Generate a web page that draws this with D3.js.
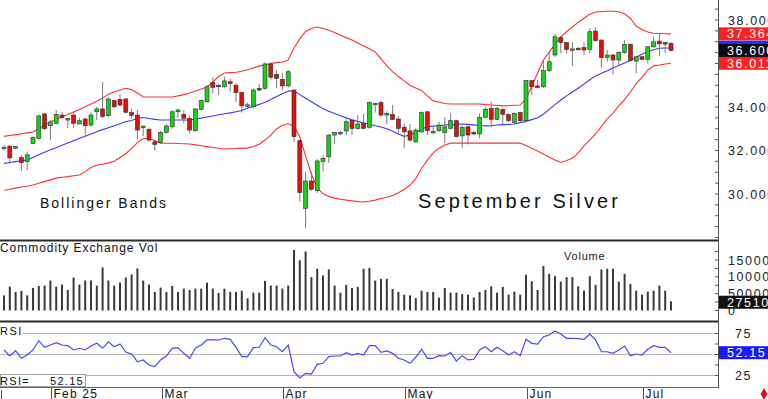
<!DOCTYPE html>
<html>
<head>
<meta charset="utf-8">
<script src="https://cdn.jsdelivr.net/npm/d3@7"></script>
<style>
  body { margin: 0; background: #fff; }
  svg { display: block; font-family: "Liberation Sans", Arial, sans-serif; }
</style>
</head>
<body>
<svg id="chart" width="768" height="399"></svg>
<script>
// September Silver, daily bars Jan–Jul 2025
const open = [
  32.10, 32.20, 32.10, 31.67, 31.49, 32.33, 32.56, 33.68, 33.14, 33.25,
  33.63, 33.42, 33.63, 33.22, 33.45, 33.17, 33.78, 33.91, 33.60, 34.29,
  34.35, 34.37, 33.74, 33.63, 33.05, 32.97, 32.40, 32.36, 32.82, 33.09,
  33.78, 33.66, 33.48, 32.91, 33.89, 34.24, 35.12, 35.00, 34.93, 35.16,
  35.00, 34.66, 34.05, 34.01, 34.85, 34.86, 35.98, 35.50, 35.27, 34.97,
  34.78, 32.45, 29.34, 30.60, 30.15, 31.49, 31.71, 32.71, 32.78, 32.90,
  33.40, 33.02, 33.25, 33.07, 34.10, 34.20, 33.63, 33.66, 33.45, 33.07,
  32.90, 32.40, 32.86, 33.78, 32.84, 32.91, 32.82, 33.02, 33.37, 32.67,
  33.09, 32.83, 32.76, 33.53, 33.94, 33.43, 33.89, 33.66, 33.28, 33.74,
  33.37, 35.21, 34.97, 34.93, 35.67, 36.39, 37.19, 36.96, 36.63, 36.70,
  36.73, 36.65, 37.49, 37.08, 36.28, 36.39, 36.16, 36.50, 36.88, 36.11,
  36.31, 36.19, 36.77, 37.03, 36.96, 36.93
];
const high = [
  32.25, 32.25, 32.22, 31.80, 31.95, 32.65, 33.65, 33.72, 33.40, 33.86,
  33.78, 33.50, 33.78, 33.50, 33.50, 33.75, 34.00, 35.14, 34.45, 34.35,
  34.58, 34.40, 33.93, 33.86, 33.15, 33.05, 32.45, 32.90, 33.20, 33.85,
  33.95, 33.86, 33.60, 33.95, 34.35, 35.00, 35.36, 35.05, 35.40, 35.30,
  35.10, 34.70, 34.20, 34.85, 35.06, 36.05, 36.05, 35.70, 35.55, 35.70,
  34.80, 32.50, 31.03, 31.03, 31.60, 31.80, 32.75, 32.85, 32.90, 33.43,
  33.45, 33.63, 33.68, 34.25, 34.20, 34.30, 33.80, 34.09, 33.59, 33.25,
  33.22, 33.05, 33.80, 33.80, 33.10, 33.32, 33.53, 33.71, 33.40, 33.15,
  33.15, 32.90, 33.71, 34.01, 34.24, 34.00, 33.95, 33.71, 33.75, 33.78,
  35.25, 35.25, 35.24, 36.13, 36.54, 37.36, 37.25, 37.00, 37.00, 36.75,
  37.00, 37.62, 37.66, 37.10, 36.62, 36.45, 36.55, 37.08, 36.92, 36.35,
  36.35, 36.80, 37.23, 37.39, 37.00, 36.98
];
const low = [
  32.00, 31.40, 32.05, 31.06, 31.10, 32.30, 32.50, 32.95, 32.48, 33.20,
  33.45, 33.03, 33.02, 33.20, 32.62, 33.10, 33.40, 33.50, 33.55, 33.95,
  34.05, 33.70, 33.47, 32.51, 32.65, 32.40, 31.98, 32.30, 32.78, 33.00,
  33.50, 33.25, 32.79, 32.88, 33.85, 34.20, 34.63, 34.55, 34.90, 34.70,
  34.24, 33.74, 33.95, 33.95, 34.70, 34.80, 35.27, 34.86, 34.78, 34.90,
  32.40, 29.65, 28.42, 30.15, 30.05, 31.03, 31.43, 32.30, 32.70, 32.71,
  32.71, 32.95, 32.98, 33.00, 33.74, 33.55, 33.22, 33.40, 32.79, 32.13,
  32.40, 32.35, 32.80, 32.71, 32.75, 32.85, 32.33, 32.98, 32.60, 32.10,
  32.28, 32.70, 32.56, 33.50, 33.07, 33.40, 33.22, 33.30, 33.25, 33.30,
  33.30, 34.55, 34.85, 34.88, 35.60, 36.30, 36.47, 36.47, 35.89, 36.60,
  36.39, 36.47, 37.00, 35.81, 36.08, 35.50, 35.93, 36.45, 36.10, 35.55,
  36.15, 36.00, 36.72, 36.34, 36.47, 36.55
];
const close = [
  32.15, 31.66, 32.18, 31.44, 31.80, 32.59, 33.59, 33.00, 33.31, 33.66,
  33.51, 33.47, 33.25, 33.37, 33.14, 33.63, 33.91, 33.56, 34.37, 34.01,
  34.09, 33.76, 33.62, 32.94, 33.12, 32.48, 32.28, 32.83, 33.13, 33.78,
  33.86, 33.48, 32.94, 33.91, 34.29, 34.93, 34.90, 34.95, 35.20, 35.08,
  34.66, 34.05, 34.10, 34.78, 34.80, 35.98, 35.37, 35.32, 34.97, 35.62,
  32.64, 30.06, 30.60, 30.22, 31.52, 31.64, 32.71, 32.83, 32.83, 33.32,
  33.02, 33.22, 33.02, 34.20, 34.17, 33.63, 33.70, 33.43, 33.02, 32.86,
  32.48, 32.94, 33.74, 32.91, 32.88, 33.17, 33.09, 33.37, 32.64, 33.07,
  32.71, 32.76, 33.53, 33.89, 33.43, 33.94, 33.66, 33.37, 33.71, 33.37,
  35.21, 34.93, 34.90, 35.67, 36.08, 37.23, 36.96, 36.65, 36.67, 36.65,
  36.62, 37.46, 37.05, 36.27, 36.39, 36.16, 36.51, 36.88, 36.13, 36.31,
  36.19, 36.77, 37.00, 36.90, 36.90, 36.60
];
const bbUpper = [
  32.65, 32.69, 32.73, 32.77, 32.81, 32.85, 33.01, 33.16, 33.32, 33.43,
  33.54, 33.65, 33.77, 33.89, 34.01, 34.14, 34.26, 34.40, 34.59, 34.70,
  34.78, 34.86, 34.80, 34.64, 34.46, 34.46, 34.46, 34.46, 34.46, 34.46,
  34.51, 34.57, 34.64, 34.74, 34.83, 34.92, 35.15, 35.40, 35.56, 35.58,
  35.60, 35.64, 35.71, 35.80, 35.88, 35.94, 36.00, 36.04, 36.07, 36.16,
  36.71, 37.13, 37.47, 37.61, 37.68, 37.61, 37.53, 37.42, 37.30, 37.19,
  37.08, 36.94, 36.81, 36.68, 36.53, 36.21, 35.89, 35.63, 35.40, 35.20,
  34.99, 34.87, 34.76, 34.51, 34.28, 34.23, 34.16, 34.14, 34.14, 34.14,
  34.14, 34.14, 34.14, 34.11, 34.09, 34.07, 34.05, 34.06, 34.08, 34.09,
  34.37, 34.97, 35.56, 36.16, 36.52, 36.88, 37.24, 37.46, 37.68, 37.89,
  38.08, 38.27, 38.37, 38.39, 38.40, 38.40, 38.38, 38.29, 38.07, 37.72,
  37.56, 37.45, 37.39, 37.38, 37.37, 37.364
];
const bbMid = [
  31.41, 31.45, 31.49, 31.53, 31.56, 31.68, 31.80, 31.92, 32.03, 32.13,
  32.24, 32.34, 32.45, 32.56, 32.66, 32.76, 32.86, 32.96, 33.05, 33.14,
  33.23, 33.33, 33.38, 33.48, 33.52, 33.47, 33.43, 33.40, 33.40, 33.40,
  33.40, 33.40, 33.40, 33.45, 33.49, 33.54, 33.59, 33.64, 33.69, 33.73,
  33.78, 33.84, 33.94, 34.03, 34.12, 34.22, 34.35, 34.48, 34.61, 34.73,
  34.75, 34.57, 34.40, 34.24, 34.08, 33.92, 33.80, 33.70, 33.60, 33.50,
  33.40, 33.34, 33.27, 33.21, 33.14, 33.08, 33.00, 32.88, 32.76, 32.65,
  32.71, 32.83, 32.99, 33.09, 33.12, 33.15, 33.17, 33.19, 33.20, 33.22,
  33.20, 33.18, 33.15, 33.13, 33.14, 33.17, 33.19, 33.20, 33.22, 33.28,
  33.34, 33.42, 33.51, 33.67, 33.89, 34.11, 34.32, 34.51, 34.69, 34.86,
  35.05, 35.25, 35.43, 35.55, 35.67, 35.79, 35.91, 36.02, 36.15, 36.29,
  36.42, 36.54, 36.63, 36.70, 36.71, 36.71
];
const bbLower = [
  30.17, 30.22, 30.27, 30.32, 30.36, 30.41, 30.49, 30.57, 30.65, 30.73,
  30.77, 30.80, 30.84, 30.87, 31.03, 31.22, 31.32, 31.37, 31.43, 31.51,
  31.68, 31.85, 32.10, 32.36, 32.55, 32.55, 32.46, 32.34, 32.33, 32.33,
  32.32, 32.31, 32.30, 32.26, 32.22, 32.18, 32.14, 32.10, 32.07, 32.08,
  32.09, 32.11, 32.11, 32.18, 32.29, 32.48, 32.71, 32.99, 33.16, 33.23,
  33.13, 32.62, 31.75, 30.92, 30.28, 30.02, 29.89, 29.81, 29.76, 29.72,
  29.69, 29.65, 29.63, 29.67, 29.72, 29.79, 29.85, 29.93, 30.06, 30.21,
  30.41, 30.71, 31.17, 31.56, 31.89, 32.10, 32.25, 32.34, 32.34, 32.34,
  32.34, 32.34, 32.34, 32.34, 32.34, 32.34, 32.34, 32.34, 32.34, 32.34,
  32.23, 32.10, 31.98, 31.84, 31.70, 31.56, 31.45, 31.54, 31.64, 31.89,
  32.21, 32.48, 32.76, 33.10, 33.45, 33.72, 34.05, 34.34, 34.69, 35.08,
  35.36, 35.70, 35.89, 35.93, 35.98, 36.011
];
const volume = [
  45000, 71000, 55000, 58000, 45000, 67000, 73000, 74000, 89000, 71000,
  77000, 61000, 98000, 77000, 89000, 89000, 74000, 128000, 89000, 74000,
  83000, 98000, 107000, 125000, 89000, 77000, 55000, 68000, 55000, 73000,
  55000, 65000, 61000, 65000, 65000, 83000, 65000, 52000, 65000, 55000,
  55000, 59000, 36000, 53000, 53000, 88000, 74000, 74000, 65000, 74000,
  180000, 149000, 175000, 99000, 124000, 104000, 122000, 74000, 53000, 76000,
  67000, 70000, 124000, 126000, 89000, 94000, 94000, 64000, 55000, 47000,
  45000, 37000, 59000, 55000, 55000, 38000, 67000, 53000, 53000, 49000,
  47000, 39000, 55000, 61000, 72000, 53000, 70000, 47000, 56000, 47000,
  106000, 87000, 61000, 132000, 109000, 102000, 86000, 99000, 99000, 72000,
  59000, 102000, 76000, 122000, 124000, 124000, 86000, 109000, 79000, 59000,
  47000, 56000, 59000, 74000, 59000, 27510
];
const rsi = [
  55.4, 48.2, 54.5, 45.5, 49.4, 55.4, 66.4, 58.6, 61.3, 64.1,
  61.3, 60.5, 55.4, 57.4, 55.4, 60.1, 63.3, 57.4, 65.2, 59.3,
  62.5, 53.0, 50.6, 41.4, 43.5, 37.5, 35.5, 43.5, 48.2, 57.4,
  58.1, 51.4, 45.5, 57.4, 61.3, 67.3, 67.3, 67.3, 69.3, 68.1,
  58.6, 47.4, 47.4, 58.1, 58.6, 70.0, 61.3, 59.3, 53.3, 61.3,
  29.5, 22.0, 27.6, 26.8, 38.3, 39.5, 47.4, 48.2, 48.2, 52.1,
  49.4, 51.4, 49.4, 60.5, 60.5, 52.6, 54.2, 51.4, 45.5, 43.5,
  39.5, 46.7, 56.2, 45.5, 45.5, 48.6, 48.2, 52.6, 42.3, 48.6,
  43.5, 44.3, 55.4, 59.3, 53.3, 58.6, 54.5, 49.4, 53.3, 48.6,
  68.1, 63.3, 62.5, 71.2, 73.2, 78.0, 74.4, 69.3, 69.3, 68.8,
  68.1, 74.4, 67.3, 53.3, 53.3, 51.4, 55.4, 60.1, 48.6, 50.6,
  49.4, 56.2, 60.5, 58.6, 58.6, 52.15
];

const monthIndex  = [8, 27, 48, 69, 90, 110];
const monthLabels = ["Feb 25", "Mar", "Apr", "May", "Jun", "Jul"];
const priceTicks  = [30, 32, 34, 36, 38];
const volumeTicks = [150000, 100000, 50000, 0];
const rsiTicks    = [75, 25];
const rsiLevels   = [75, 50, 25];

const width = 768, height = 399;
const plotRight = 718;
const n = close.length;
const last = n - 1;

const svg = d3.select("#chart").attr("viewBox", `0 0 ${width} ${height}`);

const x = d3.scaleLinear().domain([0, last]).range([4, 671]);
const yPrice = d3.scaleLinear().domain([30, 38]).range([194, 20]);
const yVol = d3.scaleLinear().domain([0, 150000]).range([310.5, 260]);
const yRsi = d3.scaleLinear().domain([25, 75]).range([375.5, 333.5]);

svg.append("defs").append("clipPath").attr("id", "mainClip")
  .append("rect").attr("x", 0).attr("y", 0).attr("width", plotRight).attr("height", 240);

// ---- price panel ----
const main = svg.append("g").attr("clip-path", "url(#mainClip)");

const bandLine = d3.line().x((d, i) => x(i)).y(d => yPrice(d));
[[bbUpper, "#ff3030"], [bbLower, "#ff3030"], [bbMid, "#3838ff"]].forEach(([s, c]) => {
  main.append("path").datum(s)
    .attr("d", bandLine)
    .attr("fill", "none")
    .attr("stroke", c)
    .attr("stroke-width", 1.1);
});

const candles = main.append("g").selectAll("g")
  .data(d3.range(n))
  .join("g");

candles.append("line")
  .attr("x1", i => x(i)).attr("x2", i => x(i))
  .attr("y1", i => yPrice(high[i])).attr("y2", i => yPrice(low[i]))
  .attr("stroke", "#7a7a7a")
  .attr("stroke-width", 1);

candles.append("rect")
  .attr("x", i => x(i) - 2)
  .attr("width", 4)
  .attr("y", i => yPrice(Math.max(open[i], close[i])))
  .attr("height", i => Math.max(1.5, Math.abs(yPrice(open[i]) - yPrice(close[i]))))
  .attr("fill", i => close[i] >= open[i] ? "#18d018" : "#e01010")
  .attr("stroke", "#303030")
  .attr("stroke-width", 0.6);

// panel text
svg.append("text").attr("x", 40).attr("y", 208)
  .attr("font-size", 14).attr("letter-spacing", 2).attr("fill", "#111")
  .text("Bollinger Bands");
svg.append("text").attr("x", 418).attr("y", 208)
  .attr("font-size", 20).attr("letter-spacing", 3.1).attr("fill", "#111")
  .text("September Silver");

// ---- volume panel ----
svg.append("g").selectAll("rect")
  .data(volume)
  .join("rect")
  .attr("x", (d, i) => x(i) - 1)
  .attr("width", 2)
  .attr("y", d => yVol(d))
  .attr("height", d => yVol(0) - yVol(d))
  .attr("fill", "#3a3a3a");

svg.append("text").attr("x", 0).attr("y", 252)
  .attr("font-size", 12).attr("letter-spacing", 0.95).attr("fill", "#111")
  .text("Commodity Exchange Vol");
svg.append("text").attr("x", 564).attr("y", 260)
  .attr("font-size", 11).attr("letter-spacing", 0.8).attr("fill", "#222")
  .text("Volume");

// ---- RSI panel ----
const levelColor = { 75: "#ff9a9a", 50: "#b8b8b8", 25: "#a8a8ff" };
svg.append("g").selectAll("line")
  .data(rsiLevels)
  .join("line")
  .attr("x1", d => d === 75 ? 22 : 0).attr("x2", plotRight)
  .attr("y1", d => yRsi(d)).attr("y2", d => yRsi(d))
  .attr("stroke", d => levelColor[d])
  .attr("stroke-width", 1);

svg.append("path").datum(rsi)
  .attr("d", d3.line().x((d, i) => x(i)).y(d => yRsi(d)))
  .attr("fill", "none")
  .attr("stroke", "#4848ff")
  .attr("stroke-width", 1.2);

svg.append("text").attr("x", 0).attr("y", 335)
  .attr("font-size", 11).attr("letter-spacing", 1.5).attr("fill", "#111")
  .text("RSI");

svg.append("rect").attr("x", 0.5).attr("y", 374.5).attr("width", 85).attr("height", 12)
  .attr("fill", "#fff").attr("stroke", "#a0a0a0");
svg.append("text").attr("x", 0).attr("y", 385)
  .attr("font-size", 11).attr("letter-spacing", 1.3).attr("fill", "#111")
  .text("RSI=");
svg.append("text").attr("x", 84).attr("y", 385).attr("text-anchor", "end")
  .attr("font-size", 11).attr("letter-spacing", 1.3).attr("fill", "#111")
  .text(d3.format(".2f")(rsi[last]));

// ---- panel frames ----
[[240.5, 2, "#2a2a2a"], [321.5, 2, "#2a2a2a"], [387.5, 1, "#606060"]].forEach(([yy, w, c]) => {
  svg.append("line").attr("x1", 0).attr("x2", plotRight + 1)
    .attr("y1", yy).attr("y2", yy).attr("stroke", c).attr("stroke-width", w);
});
svg.append("line").attr("x1", plotRight + 0.5).attr("x2", plotRight + 0.5)
  .attr("y1", 0).attr("y2", 388).attr("stroke", "#555").attr("stroke-width", 1);

// ---- right axes ----
const axisG = svg.append("g").attr("transform", `translate(${plotRight},0)`);
const rightLabel = (yy, txt) => axisG.append("text")
  .attr("x", 10).attr("y", yy + 4.5)
  .attr("font-size", 12.5).attr("letter-spacing", 1.6).attr("fill", "#222")
  .text(txt);

d3.range(28, 38.6, 0.5).forEach(v => {
  axisG.append("line").attr("x1", -3).attr("x2", 0)
    .attr("y1", yPrice(v)).attr("y2", yPrice(v)).attr("stroke", "#555");
});
d3.range(0, 175001, 25000).forEach(v => {
  axisG.append("line").attr("x1", -3).attr("x2", 0)
    .attr("y1", yVol(v)).attr("y2", yVol(v)).attr("stroke", "#555");
});
d3.range(12.5, 90, 12.5).forEach(v => {
  if (yRsi(v) < 386 && yRsi(v) > 323) axisG.append("line").attr("x1", -3).attr("x2", 0)
    .attr("y1", yRsi(v)).attr("y2", yRsi(v)).attr("stroke", "#555");
});

priceTicks.forEach(v => rightLabel(yPrice(v), d3.format(".3f")(v)));
volumeTicks.forEach(v => rightLabel(yVol(v), String(v)));
rsiTicks.forEach(v => axisG.append("text")
  .attr("x", 17).attr("y", yRsi(v) + 4.5)
  .attr("font-size", 12.5).attr("letter-spacing", 1.6).attr("fill", "#222")
  .text(v));

const tag = (yy, txt, bg) => {
  axisG.append("rect").attr("x", 1).attr("y", yy - 6.5).attr("width", 50).attr("height", 13)
    .attr("fill", bg);
  axisG.append("text").attr("x", 9).attr("y", yy + 4.5)
    .attr("font-size", 12.5).attr("letter-spacing", 1.6).attr("fill", "#fff")
    .text(txt);
};
tag(yPrice(bbMid[last]) - 1, "", "#2030ff");
tag(yPrice(bbUpper[last]), d3.format(".3f")(bbUpper[last]), "#ff2020");
tag(yPrice(bbLower[last]), d3.format(".3f")(bbLower[last]), "#ff2020");
tag(yPrice(close[last]), d3.format(".3f")(close[last]), "#0a0a14");
tag(yVol(volume[last]) + 1, String(volume[last]), "#111");
tag(yRsi(rsi[last]), d3.format(".2f")(rsi[last]), "#1a1aff");

axisG.append("path")
  .attr("d", d3.symbol(d3.symbolDiamond, 40)())
  .attr("transform", "translate(46,394)")
  .attr("fill", "#e01010");

// ---- month axis ----
const months = svg.append("g");
monthIndex.forEach((mi, k) => {
  const mx = Math.round(x(mi)) + 1.5;
  months.append("line").attr("x1", mx).attr("x2", mx)
    .attr("y1", 388).attr("y2", 399).attr("stroke", "#555");
  months.append("text").attr("x", mx + 2).attr("y", 398)
    .attr("font-size", 12).attr("letter-spacing", 1.2).attr("fill", "#111")
    .text(monthLabels[k]);
});
months.append("line").attr("x1", 1.5).attr("x2", 1.5)
  .attr("y1", 390).attr("y2", 399).attr("stroke", "#555");
</script>
</body>
</html>
